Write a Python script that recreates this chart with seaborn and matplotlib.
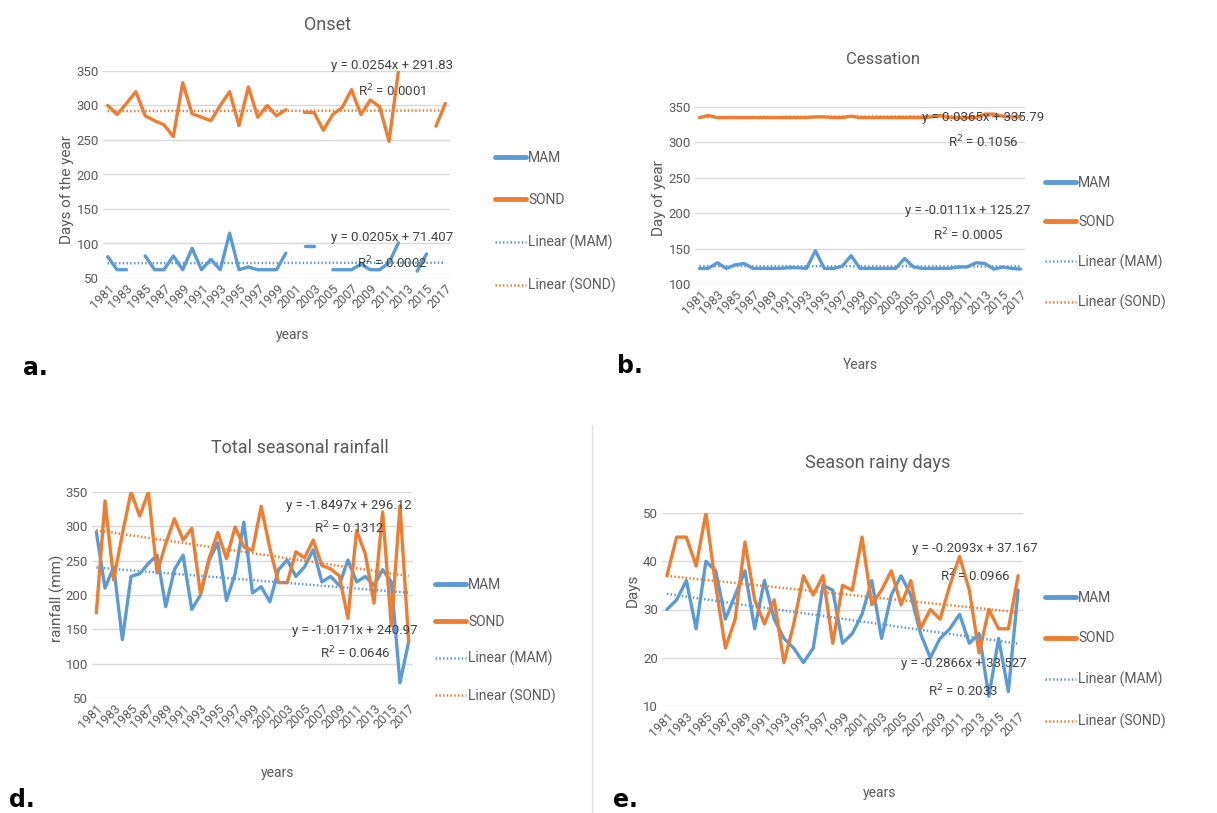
import numpy as np
import pandas as pd
import seaborn as sns
import matplotlib.pyplot as plt
from matplotlib.lines import Line2D

nan = np.nan
years = list(range(1981, 2018))

# a. onset (day of year)
onset_mam = [81, 62, 62, nan, 82, 62, 62, 82, 62, 93, 62, 77, 62, 115, 62, 66, 62, 62, 62, 86,
             nan, 97, 97, nan, 62, 62, 62, 70, 62, 62, 72, 101, nan, 60, 85, nan, nan]
onset_sond = [300, 287, 303, 320, 285, 278, 272, 255, 333, 288, 283, 278, 300, 320, 271, 327, 283, 300, 285, 294,
              nan, 290, 290, 264, 287, 297, 323, 287, 308, 298, 248, 350, nan, nan, nan, 270, 303]

# b. cessation (day of year)
cess_mam = [122, 122, 130, 122, 127, 129, 122, 122, 122, 122, 123, 123, 122, 147, 122, 122, 125, 140, 122, 122,
            122, 122, 122, 136, 124, 122, 122, 122, 122, 124, 124, 130, 129, 121, 124, 122, 121]
cess_sond = [335, 338, 335, 335, 335, 335, 335, 335, 335, 335, 335, 335, 335, 336, 336, 335, 335, 337, 335, 335,
             335, 335, 335, 335, 335, 335, 336, 338, 335, 335, 335, 335, 340, 340, 337, 336, 336]

# d. total seasonal rainfall (mm)
rain_mam = [292, 210, 241, 135, 227, 231, 246, 258, 183, 237, 258, 179, 200, 251, 276, 192, 231, 306, 203, 212,
            190, 237, 251, 227, 241, 266, 219, 227, 214, 251, 219, 227, 214, 237, 219, 72, 132]
rain_sond = [174, 337, 222, 289, 350, 315, 350, 232, 275, 311, 280, 297, 202, 253, 291, 253, 299, 270, 265, 329,
             268, 218, 218, 263, 254, 280, 243, 238, 228, 166, 294, 260, 188, 321, 155, 330, 132]

# e. season rainy days
days_mam = [30, 32, 36, 26, 40, 38, 28, 33, 38, 26, 36, 28, 24, 22, 19, 22, 35, 34, 23, 25,
            29, 36, 24, 33, 37, 33, 25, 20, 24, 26, 29, 23, 25, 12, 24, 13, 34]
days_sond = [37, 45, 45, 39, 50, 35, 22, 28, 44, 32, 27, 32, 19, 27, 37, 33, 37, 23, 35, 34,
             45, 31, 34, 38, 31, 36, 26, 30, 28, 35, 41, 34, 21, 30, 26, 26, 37]

# linear trend (slope, intercept, R2) as printed on the charts, x = 1..37
onset_fit = {'MAM': (0.0205, 71.407, 0.0002), 'SOND': (0.0254, 291.83, 0.0001)}
cess_fit = {'MAM': (-0.0111, 125.27, 0.0005), 'SOND': (0.0365, 335.79, 0.1056)}
rain_fit = {'MAM': (-1.0171, 240.97, 0.0646), 'SOND': (-1.8497, 296.12, 0.1312)}
days_fit = {'MAM': (-0.2866, 33.527, 0.2033), 'SOND': (-0.2093, 37.167, 0.0966)}

colors = {'MAM': '#5B9BD5', 'SOND': '#ED7D31'}
grey = '#595959'
dots = (0, (0.6, 0.9))

sns.set_style('white')
plt.rcParams['font.family'] = ['Roboto', 'DejaVu Sans']


def to_long(mam, sond):
    # split each series into unbroken runs so gaps stay empty
    rows = []
    for name, vals in [('MAM', mam), ('SOND', sond)]:
        seg = 0
        prev = False
        for yr, v in zip(years, vals):
            if np.isnan(v):
                prev = False
                continue
            if not prev:
                seg += 1
            rows.append({'season': name, 'year': yr, 'value': v, 'seg': f'{name}{seg}'})
            prev = True
    return pd.DataFrame(rows)


def fmt_eq(m, b):
    sign = '+' if b >= 0 else '-'
    return f'y = {m:g}x {sign} {abs(b):g}'


def draw(ax, mam, sond, fits, ylim, step, eq_pos):
    df = to_long(mam, sond)
    for name in ['MAM', 'SOND']:
        sns.lineplot(data=df[df.season == name], x='year', y='value', units='seg', estimator=None,
                     color=colors[name], lw=2.4, ax=ax, legend=False)
    idx = np.arange(1, len(years) + 1)
    for name in ['MAM', 'SOND']:
        m, b, r2 = fits[name]
        trend = pd.DataFrame({'year': years, 'value': m * idx + b})
        sns.lineplot(data=trend, x='year', y='value', color=colors[name], lw=1.8,
                     linestyle=dots, ax=ax, legend=False)
        (xe, ye), (xr, yr) = eq_pos[name]
        ax.text(xe, ye, fmt_eq(m, b), ha='center', va='center', fontsize=9.5, color='#404040')
        ax.text(xr, yr, f'R$^2$ = {r2:.4f}', ha='center', va='center', fontsize=9.5, color='#404040')
    ax.set_xlim(1980.5, 2017.5)
    ax.set_ylim(*ylim)
    ax.set_yticks(np.arange(ylim[0], ylim[1] + 1, step))
    ax.set_xticks(years[::2])
    ax.set_xticklabels([str(y) for y in years[::2]], rotation=45, ha='right', rotation_mode='anchor')
    ax.yaxis.grid(True, color='#D9D9D9', lw=1)
    ax.set_axisbelow(True)
    ax.tick_params(length=0, labelsize=9.5, colors=grey, pad=3)
    ax.tick_params(axis='x', labelsize=9)
    for s in ax.spines.values():
        s.set_visible(False)
    ax.set_xlabel('')
    ax.set_ylabel('')


def legend(fig, x, y, spacing):
    handles = [Line2D([], [], color=colors['MAM'], lw=3.5),
               Line2D([], [], color=colors['SOND'], lw=3.5),
               Line2D([], [], color=colors['MAM'], lw=1.8, linestyle=dots),
               Line2D([], [], color=colors['SOND'], lw=1.8, linestyle=dots)]
    labels = ['MAM', 'SOND', 'Linear (MAM)', 'Linear (SOND)']
    fig.legend(handles, labels, loc='center left', bbox_to_anchor=(x / 1217, 1 - y / 813),
               frameon=False, fontsize=10, labelcolor=grey, labelspacing=spacing,
               handlelength=2.2, handletextpad=0.2, borderpad=0, borderaxespad=0)


def ftext(x, y, s, **kw):
    fig.text(x / 1217, 1 - y / 813, s, ha='center', va='center', **kw)


fig = plt.figure(figsize=(12.17, 8.13), dpi=100)

ax_a = fig.add_axes([103 / 1217, 1 - 278 / 813, 347 / 1217, 207 / 813])
draw(ax_a, onset_mam, onset_sond, onset_fit, (50, 350), 50,
     {'SOND': ((2011.3, 358), (2011.3, 321)), 'MAM': ((2011.3, 108), (2011.3, 72))})
ax_b = fig.add_axes([695 / 1217, 1 - 284 / 813, 330 / 1217, 177 / 813])
draw(ax_b, cess_mam, cess_sond, cess_fit, (100, 350), 50,
     {'SOND': ((2012.8, 335), (2012.8, 301)), 'MAM': ((2011.1, 204), (2011.1, 169))})
ax_d = fig.add_axes([92 / 1217, 1 - 698 / 813, 321 / 1217, 206 / 813])
draw(ax_d, rain_mam, rain_sond, rain_fit, (50, 350), 50,
     {'SOND': ((2010.1, 330), (2010.1, 298)), 'MAM': ((2010.8, 148), (2010.8, 115))})
ax_e = fig.add_axes([662 / 1217, 1 - 706 / 813, 361 / 1217, 193 / 813])
draw(ax_e, days_mam, days_sond, days_fit, (10, 50), 10,
     {'SOND': ((2012.6, 42.6), (2012.6, 36.9)), 'MAM': ((2011.4, 18.8), (2011.4, 13.2))})

legend(fig, 495, 222, 2.0)
legend(fig, 1045, 243, 1.8)
legend(fig, 435, 641, 1.6)
legend(fig, 1045, 660, 1.9)

ftext(328, 25, 'Onset', fontsize=13, color=grey)
ftext(883, 60, 'Cessation', fontsize=12, color=grey)
ftext(300, 448, 'Total seasonal rainfall', fontsize=13, color=grey)
ftext(878, 463, 'Season rainy days', fontsize=13, color=grey)

ftext(67, 190, 'Days of the year', fontsize=11, color=grey, rotation=90)
ftext(659, 198, 'Day of year', fontsize=11, color=grey, rotation=90)
ftext(57, 598, 'rainfall (mm)', fontsize=11, color=grey, rotation=90)
ftext(633, 590, 'Days', fontsize=11, color=grey, rotation=90)

ftext(293, 335, 'years', fontsize=10, color=grey)
ftext(860, 365, 'Years', fontsize=10, color=grey)
ftext(278, 773, 'years', fontsize=10, color=grey)
ftext(880, 793, 'years', fontsize=10, color=grey)

for x, y, s in [(35, 368, 'a.'), (630, 366, 'b.'), (22, 800, 'd.'), (625, 800, 'e.')]:
    ftext(x, y, s, fontsize=17, fontweight='bold', color='black', family='DejaVu Sans')

fig.add_artist(Line2D([592 / 1217, 592 / 1217], [0, 1 - 425 / 813], color='#E0E0E0', lw=1))

fig.savefig('out.png', dpi=100)
